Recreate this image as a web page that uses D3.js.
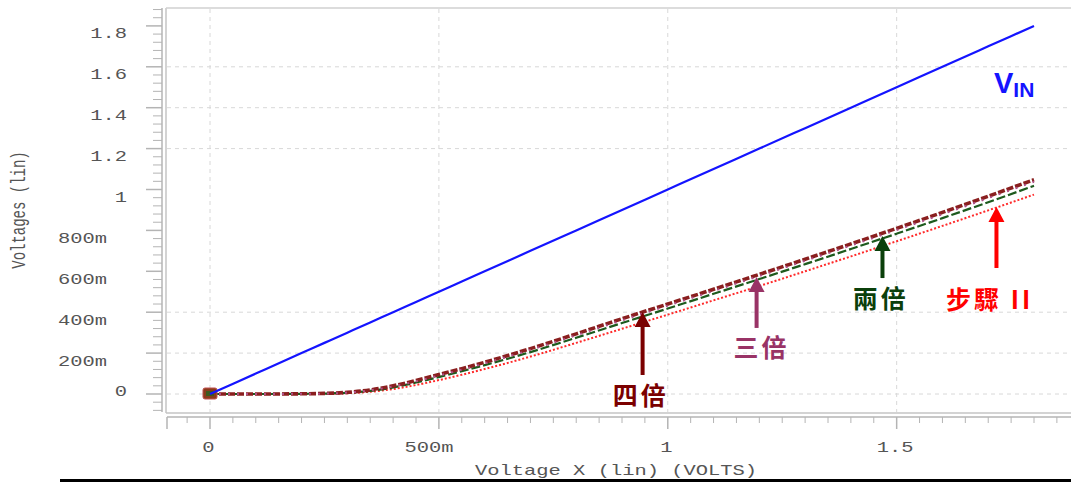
<!DOCTYPE html>
<html>
<head>
<meta charset="utf-8">
<script src="https://cdn.jsdelivr.net/npm/d3@7"></script>
<style>
  html, body { margin: 0; padding: 0; background: #fff; }
  svg { display: block; }
</style>
</head>
<body>
<svg id="chart" width="1071" height="482"></svg>
<script>
// ---------------- data ----------------
const xValues   = [0, 0.1, 0.2, 0.25, 0.3, 0.35, 0.4, 0.45, 0.5, 0.55, 0.6, 0.7, 0.8, 0.9, 1.0, 1.1, 1.2, 1.3, 1.4, 1.5, 1.6, 1.7, 1.8];
const vin       = [0, 0.1, 0.2, 0.25, 0.3, 0.35, 0.4, 0.45, 0.5, 0.55, 0.6, 0.7, 0.8, 0.9, 1.0, 1.1, 1.2, 1.3, 1.4, 1.5, 1.6, 1.7, 1.8];
const siBei     = [0, 0, 0.001, 0.003, 0.008, 0.02, 0.04, 0.066, 0.095, 0.124, 0.155, 0.222, 0.294, 0.368, 0.44, 0.512, 0.585, 0.659, 0.734, 0.81, 0.888, 0.967, 1.048];
const sanBei    = [0, 0, 0.001, 0.002, 0.007, 0.018, 0.037, 0.062, 0.09, 0.119, 0.15, 0.216, 0.287, 0.36, 0.432, 0.504, 0.577, 0.651, 0.726, 0.802, 0.879, 0.958, 1.038];
const liangBei  = [0, 0, 0.001, 0.002, 0.006, 0.015, 0.032, 0.056, 0.083, 0.111, 0.141, 0.205, 0.275, 0.347, 0.418, 0.49, 0.562, 0.635, 0.709, 0.784, 0.86, 0.938, 1.018];
const buZhouII  = [0, 0, 0, 0.001, 0.004, 0.011, 0.024, 0.044, 0.068, 0.094, 0.122, 0.183, 0.25, 0.319, 0.388, 0.458, 0.528, 0.6, 0.673, 0.747, 0.822, 0.898, 0.975];

const yTickValues = [0, 0.2, 0.4, 0.6, 0.8, 1.0, 1.2, 1.4, 1.6, 1.8];
const yTickLabels = ["0", "200m", "400m", "600m", "800m", "1", "1.2", "1.4", "1.6", "1.8"];
const xTickValues = [0, 0.5, 1.0, 1.5];
const xTickLabels = ["0", "500m", "1", "1.5"];
const yGridValues = [0, 0.2, 0.4, 1.2, 1.4, 1.6];
const xGridValues = [0, 0.5, 1.0, 1.5];

// arrow annotations (data units)
const annLabels = ["四倍", "三倍", "兩倍", "步驟 II"];
const annX      = [0.945, 1.194, 1.469, 1.718];
const annTip    = [0.401, 0.572, 0.773, 0.914];
const annTail   = [0.093, 0.323, 0.567, 0.616];
const annLabelX = [0.941, 1.205, 1.465, 1.703];
const annLabelY = [-0.054, 0.181, 0.42, 0.416];

// ---------------- scales ----------------
const svg = d3.select("#chart");
const x = d3.scaleLinear().domain([0, 1.8]).range([210, 1034]);
const y = d3.scaleLinear().domain([0, 1.8]).range([394, 25.9]);
const xExt = [x.invert(167), x.invert(1071)];
const yExt = [y.invert(412), y.invert(8)];

const labelColor = "#555";
const axisColor = "#b4b4b4";
const monoFont = "'Liberation Mono', 'DejaVu Sans Mono', monospace";

// ---------------- frame & gridlines ----------------
const frame = svg.append("g");
frame.append("line").attr("x1", 166).attr("x2", 166).attr("y1", 8).attr("y2", 413)
  .attr("stroke", "#c4c4c4").attr("stroke-width", 1.5);
frame.append("line").attr("x1", 166).attr("x2", 1071).attr("y1", 8).attr("y2", 8)
  .attr("stroke", "#d0d0d0").attr("stroke-width", 1.5);
frame.append("line").attr("x1", 166).attr("x2", 1071).attr("y1", 413).attr("y2", 413)
  .attr("stroke", "#c4c4c4").attr("stroke-width", 1.5);

const grid = svg.append("g").attr("stroke", "#d8d8d8").attr("stroke-width", 1).attr("stroke-dasharray", "4,4");
grid.selectAll(".hg").data(yGridValues).join("line")
  .attr("x1", 167).attr("x2", 1071)
  .attr("y1", d => y(d)).attr("y2", d => y(d));
grid.selectAll(".vg").data(xGridValues).join("line")
  .attr("x1", d => x(d)).attr("x2", d => x(d))
  .attr("y1", 9).attr("y2", 412);

// ---------------- y axis ----------------
const yAxisG = svg.append("g");
yAxisG.append("line").attr("x1", 162).attr("x2", 162).attr("y1", y(yExt[1])).attr("y2", y(yExt[0]))
  .attr("stroke", axisColor).attr("stroke-width", 1.5);
const yMinor = d3.range(-0.08, 1.9, 0.04).filter(v => Math.abs(Math.round(v / 0.2) * 0.2 - v) > 1e-6);
yAxisG.selectAll(".ymin").data(yMinor).join("line")
  .attr("x1", 153).attr("x2", 162).attr("y1", d => y(d)).attr("y2", d => y(d))
  .attr("stroke", axisColor).attr("stroke-width", 1);
yAxisG.selectAll(".ymaj").data(yTickValues).join("line")
  .attr("x1", 146).attr("x2", 162).attr("y1", d => y(d)).attr("y2", d => y(d))
  .attr("stroke", axisColor).attr("stroke-width", 1.5);
yAxisG.selectAll(".ylab").data(yTickValues).join("text")
  .attr("transform", (d, i) => {
    const lab = yTickLabels[i];
    const ax = lab.includes("m") ? 107 : 127;
    const by = d === 0 ? y(d) + 2 : y(d) + 12.5;
    return `translate(${ax},${by}) scale(1.46,1)`;
  })
  .attr("text-anchor", "end")
  .attr("font-family", monoFont).attr("font-size", 14).attr("fill", labelColor)
  .text((d, i) => yTickLabels[i]);

svg.append("text")
  .attr("transform", "translate(25,210) rotate(-90) scale(1,1.4)")
  .attr("text-anchor", "middle")
  .attr("font-family", monoFont).attr("font-size", 14).attr("fill", labelColor)
  .text("Voltages (lin)");

// ---------------- x axis ----------------
const xAxisG = svg.append("g");
xAxisG.append("line").attr("x1", x(xExt[0])).attr("x2", x(xExt[1])).attr("y1", 417).attr("y2", 417)
  .attr("stroke", axisColor).attr("stroke-width", 1.5);
xAxisG.append("line").attr("x1", 167).attr("x2", 167).attr("y1", 417).attr("y2", 429)
  .attr("stroke", axisColor).attr("stroke-width", 1.5);
const xMinor = d3.range(-0.05, 1.9, 0.05).filter(v => Math.abs(Math.round(v / 0.5) * 0.5 - v) > 1e-6);
xAxisG.selectAll(".xmin").data(xMinor).join("line")
  .attr("x1", d => x(d)).attr("x2", d => x(d)).attr("y1", 417).attr("y2", 423)
  .attr("stroke", axisColor).attr("stroke-width", 1);
xAxisG.selectAll(".xmaj").data(xTickValues).join("line")
  .attr("x1", d => x(d)).attr("x2", d => x(d)).attr("y1", 417).attr("y2", 429)
  .attr("stroke", axisColor).attr("stroke-width", 1.5);
xAxisG.selectAll(".xlab").data(xTickValues).join("text")
  .attr("transform", (d, i) => {
    const lab = xTickLabels[i];
    const cx = x(d) - 1.5 - (lab.includes("m") ? 8.5 : 0);
    return `translate(${cx},452) scale(1.46,1)`;
  })
  .attr("text-anchor", "middle")
  .attr("font-family", monoFont).attr("font-size", 14).attr("fill", labelColor)
  .text((d, i) => xTickLabels[i]);

svg.append("text")
  .attr("transform", "translate(616,475) scale(1.46,1)")
  .attr("text-anchor", "middle")
  .attr("font-family", monoFont).attr("font-size", 14).attr("fill", labelColor)
  .text("Voltage X (lin) (VOLTS)");

// bottom black rule
svg.append("line").attr("x1", 60).attr("x2", 1071).attr("y1", 480.5).attr("y2", 480.5)
  .attr("stroke", "#000").attr("stroke-width", 3);

// ---------------- series ----------------
const line = d3.line().x(d => x(d[0])).y(d => y(d[1])).curve(d3.curveMonotoneX);
const zip = arr => xValues.map((v, i) => [v, arr[i]]);

const series = [
  { name: "步驟 II", values: buZhouII, color: "#ff2a2a", width: 2,   dash: "2,2" },
  { name: "兩倍",    values: liangBei, color: "#1d5a1d", width: 2.2, dash: "9,3" },
  { name: "四倍",    values: siBei,    color: "#8a1f1f", width: 3.6, dash: "7,2" },
  { name: "三倍",    values: sanBei,   color: "#b0508a", width: 2,   dash: "2,7" }
];
const sg = svg.append("g").attr("fill", "none");
sg.selectAll("path.s").data(series).join("path")
  .attr("d", d => line(zip(d.values)))
  .attr("stroke", d => d.color).attr("stroke-width", d => d.width)
  .attr("stroke-dasharray", d => d.dash);

// start markers
svg.append("rect").attr("x", x(xValues[0]) - 7).attr("y", y(siBei[0]) - 6).attr("width", 14).attr("height", 11)
  .attr("fill", "#8a3a1a").attr("stroke", "#c05050").attr("stroke-width", 1).attr("rx", 2);
svg.append("rect").attr("x", x(xValues[0]) - 4).attr("y", y(liangBei[0]) - 3).attr("width", 8).attr("height", 5)
  .attr("fill", "#3d5a1d");

// VIN
svg.append("path")
  .attr("d", line(zip(vin)))
  .attr("fill", "none").attr("stroke", "#1414ff").attr("stroke-width", 2.2);

const vinLabel = svg.append("text")
  .attr("x", 994).attr("y", 93)
  .attr("font-family", "'Liberation Sans', Arial, sans-serif").attr("font-weight", "bold")
  .attr("fill", "#1414ff");
vinLabel.append("tspan").attr("font-size", 29).text("V");
vinLabel.append("tspan").attr("font-size", 21).attr("dy", 4).text("IN");

// ---------------- arrows ----------------
const annColors = ["#7b0000", "#993366", "#0b400b", "#ff0000"];
const ann = svg.append("g");
annLabels.forEach((lab, i) => {
  const ax = x(annX[i]);
  const tip = y(annTip[i]);
  const tail = y(annTail[i]);
  const col = annColors[i];
  ann.append("line").attr("x1", ax).attr("x2", ax).attr("y1", tail).attr("y2", tip + 12)
    .attr("stroke", col).attr("stroke-width", 4);
  ann.append("path")
    .attr("d", `M${ax},${tip} L${ax - 8},${tip + 15} L${ax + 8},${tip + 15} Z`)
    .attr("fill", col);
  ann.append("text")
    .attr("x", x(annLabelX[i])).attr("y", y(annLabelY[i]))
    .attr("text-anchor", "middle")
    .attr("font-family", "'Noto Sans CJK TC', 'Noto Sans CJK SC', sans-serif")
    .attr("font-weight", 700).attr("font-size", 25).attr("letter-spacing", 3)
    .attr("fill", col)
    .text(lab);
});
</script>
</body>
</html>
